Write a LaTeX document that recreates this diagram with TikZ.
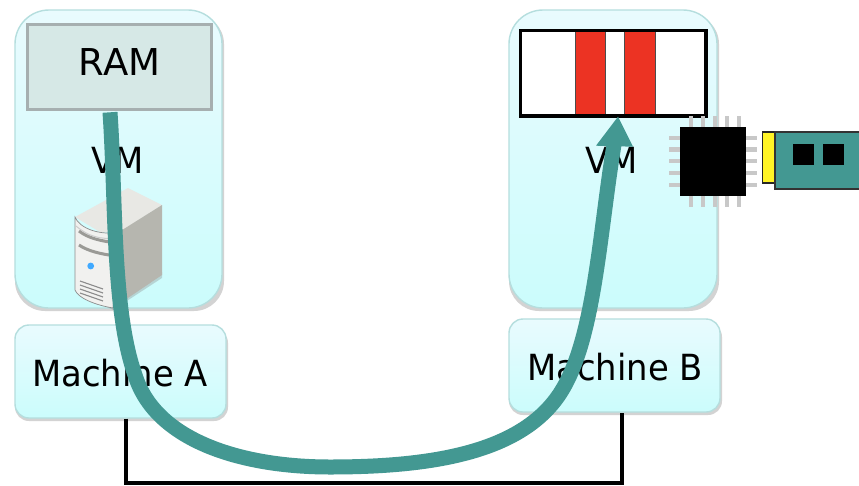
\documentclass[tikz,border=0pt]{standalone}
\usepackage{fontspec}
\setmainfont{DejaVu Sans}
\newfontfamily\narrowlabel[FakeStretch=0.94]{DejaVu Sans}
\usetikzlibrary{arrows.meta,calc}
\definecolor{teal1}{HTML}{439892}
\definecolor{gborder}{HTML}{B5DEDE}
\definecolor{gtop}{HTML}{E9FBFE}
\definecolor{gbot}{HTML}{CBFCFC}
\definecolor{ramfill}{HTML}{D6E8E6}
\definecolor{ramline}{HTML}{A6AFB0}
\definecolor{memred}{HTML}{EC3323}
\definecolor{pin}{HTML}{C8C8C8}
\definecolor{shadowc}{HTML}{C8C8C8}
\definecolor{srvside}{HTML}{B6B6AF}
\definecolor{srvtop}{HTML}{E8E8E4}
\definecolor{srvfront}{HTML}{F1F1EF}
\definecolor{srvband}{HTML}{9A9A96}
\tikzset{
  softbox/.style={rounded corners=#1, draw=gborder, line width=1.4pt, top color=gtop, bottom color=gbot, inner sep=0pt},
  softshadow/.style={fill=shadowc, rounded corners=#1, opacity=.8},
  biglabel/.style={font=\narrowlabel\fontsize{36}{36}\selectfont, inner sep=0pt},
  blackwire/.style={draw=black, line width=3.6pt},
  pinline/.style={draw=pin, line width=4.4pt},
  flowline/.style={draw=teal1, line width=15pt},
  flowtip/.style={fill=teal1},
  memcell/.style={draw=black!70, line width=.8pt, inner sep=0pt},
  blacksq/.style={fill=black, draw=none, inner sep=0pt},
}
\begin{document}
\begin{tikzpicture}[x=1pt,y=-1pt]
\useasboundingbox (0,0) rectangle (859,485);
\fill[white] (0,0) rectangle (859,485);
\fill[softshadow=30pt] (15,14) rectangle (224,311);
\fill[softshadow=14pt] (15,329) rectangle (228,421);
\fill[softshadow=30pt] (509,14) rectangle (719,311);
\fill[softshadow=14pt] (509,323) rectangle (722,415);
\node[softbox=34pt, minimum width=207pt, minimum height=298pt] (vma) at (118.5,159) {};
\node[softbox=14pt, minimum width=211pt, minimum height=93pt] (macha) at (120.5,371.5) {};
\node[softbox=34pt, minimum width=208pt, minimum height=298pt] (vmb) at (613,159) {};
\node[softbox=14pt, minimum width=211pt, minimum height=93pt] (machb) at (614.5,365.5) {};
\node[biglabel] (mtexta) at (120,373) {Machine A};
\node[biglabel] (mtextb) at (615,367) {Machine B};
\node[biglabel] (vmlabela) at (118,160.5) {VM};
\node[biglabel] (vmlabelb) at (612,160.5) {VM};
% RAM
\node[draw=ramline, fill=ramfill, line width=3.6pt, minimum width=184pt, minimum height=85pt, inner sep=0pt] (ram) at (119.5,67) {};
\node[font=\fontsize{37}{37}\selectfont, inner sep=0pt] (ramtext) at (119.5,62) {RAM};
% memory strip
\node[draw=none, fill=white, minimum width=185pt, minimum height=85pt, inner sep=0pt] (mem) at (613,73) {};
\node[memcell, fill=memred, minimum width=30pt, minimum height=85pt] (reda) at (590.5,73) {};
\node[memcell, fill=memred, minimum width=31pt, minimum height=85pt] (redb) at (639.5,73) {};
\draw[draw=black, line width=3.6pt] (mem.north west) rectangle (mem.south east);
% server
\fill[black!45,opacity=.35] (78,292) -- (113,310) -- (162,278) -- (162,272) -- cycle;
\fill[srvtop] (75,217) -- (128,188) -- (162,205) -- (120,232) -- (100,232) -- cycle;
\fill[srvside] (162,205) -- (162,275) -- (113,308) -- (119,232) -- cycle;
\fill[srvfront, draw=black!45, line width=.7pt] (75,217) .. controls (79,228) and (100,236) .. (119,232) -- (113,308) .. controls (95,305) and (78,298) .. (75,290) -- cycle;
\draw[srvband,line width=3pt] (79,231) .. controls (88,238) and (100,241) .. (117,243);
\draw[srvband,line width=3pt] (79,245) .. controls (88,251) and (100,254) .. (116,256);
\draw[black!20,line width=1pt] (76,226) .. controls (88,236) and (100,240) .. (118,238);
\fill[blue!45!cyan!75!white] (90.7,266) circle (3.4pt);
\foreach \dy in {0,4,8,12}{\draw[black!45,line width=1.1pt] (80,281+\dy) -- (103,289+\dy);}
% wires
\draw[blackwire] (macha.south -| 126,0) -- (126,483) coordinate (wa) -- (622,483) coordinate (wb) -- (machb.south -| 622,0);
% chip
\foreach \yy in {137.7,149.5,161,173,185}{\draw[pinline] (669,\yy) -- (757,\yy);}
\foreach \xx in {690.7,702.7,714.7,726.7,738.7}{\draw[pinline] (\xx,116) -- (\xx,207);}
\node[blacksq, minimum width=66pt, minimum height=69pt] (chip) at (713.3,161.5) {};
% card
\node[draw=black!85, fill=yellow!85!white, line width=1.5pt, minimum width=13pt, minimum height=51pt, inner sep=0pt] (pluga) at (769,157.5) {};
\path[draw=black!80, fill=teal1, line width=1.5pt] (859,132) -- (775,132) -- (775,189) -- (859,189);
\node[blacksq, minimum size=21pt] (sqa) at (803.5,154.5) {};
\node[blacksq, minimum size=21pt] (sqb) at (833.5,154.5) {};
% flow arrow
\coordinate (flowstart) at ($(ram.south)+(-9.5,1)$);
\coordinate (flowend) at ($(mem.south)+(5,1)$);
\coordinate (flowneck) at ($(flowend)+(-4,28)$);
\draw[flowline] (flowstart) .. controls (116,200) and (112,310) .. (135,375) .. controls (155,440) and (240,467) .. (330,467) .. controls (440,467) and (530,450) .. (565,385) .. controls (595,330) and (600,230) .. (flowneck);
\fill[flowtip] (flowend) -- ($(flowend)+(15,30)$) -- ($(flowend)+(-22,29)$) -- cycle;
\end{tikzpicture}
\end{document}
